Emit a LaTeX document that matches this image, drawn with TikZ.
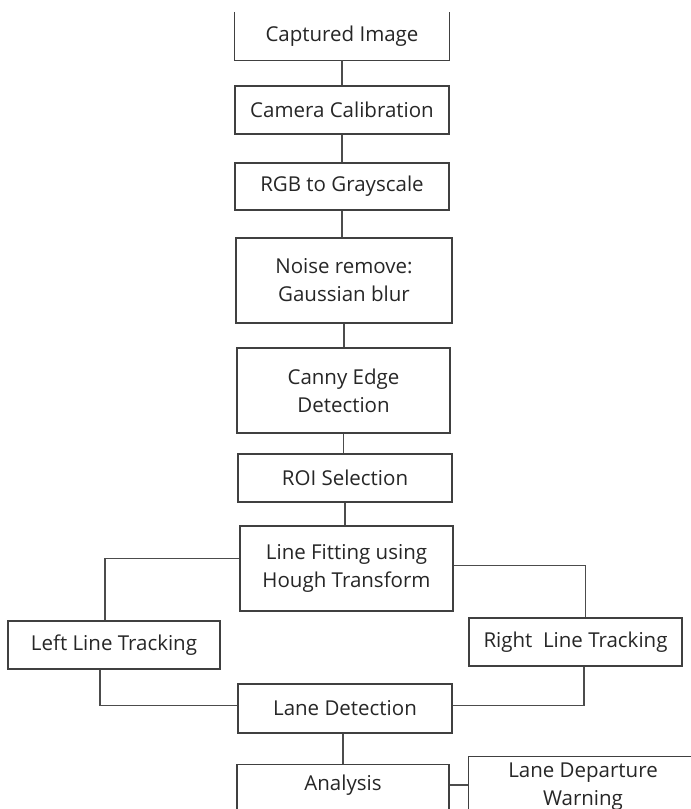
\documentclass[tikz,border=0pt]{standalone}
\usepackage{fontspec}
\setmainfont{Open Sans}
\begin{document}
\begin{tikzpicture}[x=1pt,y=-1pt,
  box/.style={draw=black!75, line width=1.1pt, minimum width=#1, inner sep=0pt, text=black!85, font=\fontsize{20.5}{28}\selectfont, align=center},
  box/.default=214pt,
  txt/.style={inner sep=0pt, text=black!85, font=\fontsize{20.5}{28}\selectfont, align=center},
  conn/.style={draw=black!70, line width=1.1pt}]
\useasboundingbox (0,0) rectangle (691,809);
\clip (0,0) rectangle (691,809);
\node[txt, minimum width=214pt, minimum height=48pt] (cap) at (342,36) {Captured Image};
\draw[conn, draw=black!75] (cap.north west) -- (cap.south west) -- (cap.south east) -- (cap.north east);
\node[box, minimum height=48pt] (cam) at (342,110) {Camera Calibration};
\node[box, minimum height=47pt] (rgb) at (342,186.5) {RGB to Grayscale};
\node[box=216pt, minimum height=85pt] (noise) at (344,280.5) {Noise remove:\\Gaussian blur};
\node[box=213pt, minimum height=85pt] (canny) at (343.5,390.5) {Canny Edge\\Detection};
\node[box, minimum height=48pt] (roi) at (345,478) {ROI Selection};
\node[box=213pt, minimum height=85pt] (hough) at (346.5,568.5) {Line Fitting using\\Hough Transform};
\node[box=212pt, minimum height=48pt] (left) at (114,645) {Left Line Tracking};
\node[box=213pt, minimum height=48pt] (right) at (575.5,642) {Right\ \ Line Tracking};
\node[box, minimum height=49pt] (lane) at (345,708.5) {Lane Detection};
\node[box=212pt, minimum height=90pt, anchor=north] (ana) at (343,764) {};
\node[txt] at (343,785) {Analysis};
\node[box=232pt, minimum height=90pt, anchor=north west] (ldw) at (468,756) {};
\node[txt] at (583,787) {Lane Departure\\Warning};
\draw[conn] (cap.south) -- (cam.north);
\draw[conn] (cam.south) -- (rgb.north);
\draw[conn] (rgb.south) -- (rgb.south |- noise.north);
\draw[conn] (noise.south) -- (noise.south |- canny.north);
\draw[conn] (canny.south) -- (canny.south |- roi.north);
\draw[conn] (roi.south) -- (roi.south |- hough.north);
\draw[conn] ([yshift=10pt]hough.west) -| ([xshift=-9pt]left.north);
\draw[conn] ([yshift=3pt]hough.east) -| ([xshift=10pt]right.north);
\draw[conn] ([xshift=-14pt]left.south) |- ([yshift=3pt]lane.west);
\draw[conn] ([xshift=8.5pt]right.south) |- ([yshift=3pt]lane.east);
\draw[conn] ([xshift=-2pt]lane.south) -- ([xshift=-2pt]lane.south |- ana.north);
\draw[conn] ([yshift=-21pt]ana.north east) -- ([yshift=-21pt]ana.north east -| ldw.west);
\end{tikzpicture}
\end{document}
